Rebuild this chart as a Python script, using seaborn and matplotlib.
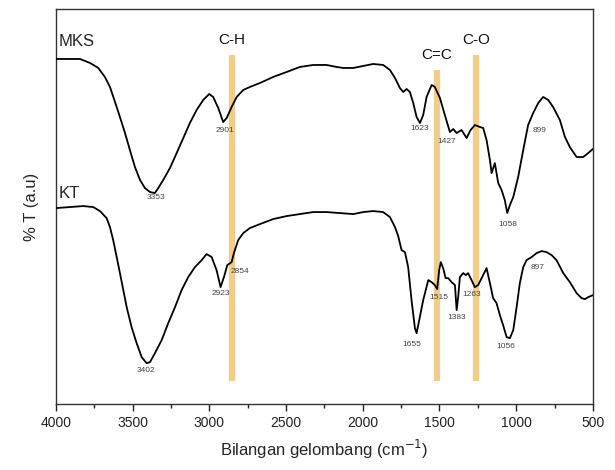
import numpy as np
import pandas as pd
import matplotlib
matplotlib.use('Agg')
import matplotlib.pyplot as plt
import seaborn as sns

# MKS spectrum (wavenumber, %T arbitrary units)
mks_wn = [4000, 3844, 3778, 3724, 3681, 3648, 3615, 3583, 3550, 3518, 3485, 3452, 3420, 3387,
          3355, 3333, 3301, 3257, 3213, 3170, 3127, 3083, 3040, 3001, 2975, 2942, 2910, 2887,
          2855, 2822, 2779, 2736, 2670, 2584, 2496, 2410, 2323, 2236, 2170, 2127, 2062, 1997,
          1932, 1867, 1823, 1790, 1758, 1736, 1714, 1693, 1671, 1649, 1627, 1606, 1584, 1551,
          1530, 1497, 1465, 1432, 1410, 1388, 1356, 1323, 1297, 1269, 1236, 1215, 1193, 1171,
          1160, 1139, 1117, 1095, 1074, 1058, 1041, 1019, 987, 954, 922, 889, 856, 824, 791,
          759, 715, 682, 650, 606, 563, 530, 500]
mks_t = [345, 345, 341, 336, 327, 317, 302, 287, 271, 254, 237, 224, 216, 212,
         211, 216, 224, 236, 251, 266, 281, 294, 304, 310, 307, 296, 282, 286,
         297, 307, 314, 317, 321, 327, 332, 337, 339, 339, 337, 336, 336, 338,
         340, 339, 334, 326, 316, 312, 315, 312, 301, 287, 281, 289, 307, 319,
         317, 306, 289, 272, 275, 271, 274, 266, 274, 279, 277, 276, 264, 244,
         231, 241, 221, 214, 204, 191, 199, 207, 227, 254, 279, 291, 301, 307, 304,
         297, 284, 267, 257, 247, 247, 251, 255]

# KT spectrum
kt_wn = [4000, 3909, 3822, 3757, 3713, 3670, 3648, 3627, 3604, 3583, 3561, 3539, 3507, 3474,
         3441, 3409, 3387, 3355, 3311, 3268, 3224, 3181, 3138, 3094, 3050, 3018, 2985, 2953,
         2927, 2905, 2883, 2855, 2840, 2812, 2779, 2736, 2670, 2584, 2496, 2410, 2323, 2236,
         2149, 2062, 1997, 1932, 1867, 1823, 1790, 1769, 1747, 1725, 1704, 1682, 1660, 1649,
         1632, 1606, 1573, 1551, 1530, 1515, 1502, 1491, 1476, 1460, 1443, 1421, 1399, 1388,
         1378, 1367, 1345, 1328, 1313, 1291, 1269, 1248, 1225, 1193, 1171, 1150, 1128, 1106,
         1085, 1062, 1041, 1019, 997, 976, 954, 932, 899, 867, 834, 802, 769, 737, 693, 650,
         606, 574, 552, 530, 500]
kt_t = [196, 197, 198, 197, 193, 186, 177, 164, 147, 131, 114, 97, 77, 61,
        47, 41, 42, 51, 64, 81, 97, 114, 127, 137, 144, 150, 147, 134,
        117, 127, 139, 142, 151, 164, 171, 176, 180, 185, 188, 190, 192, 192,
        191, 190, 192, 193, 192, 187, 177, 168, 154, 152, 137, 104, 76, 71,
        84, 104, 124, 122, 119, 115, 134, 142, 136, 126, 126, 122, 119, 94,
        107, 127, 131, 129, 131, 124, 117, 119, 126, 136, 121, 106, 101, 89,
        79, 67, 66, 74, 97, 121, 137, 144, 147, 151, 153, 152, 149, 144, 131, 122,
        111, 106, 105, 107, 109]

# peak labels: (text wavenumber, offset in pixels)
mks_peaks = [3353, 2901, 1623, 1427, 1058, 899]
mks_offsets = [(1, -5), (0, -10), (-1, -7), (-4, -10), (1, -11), (8, -14)]
kt_peaks = [3402, 2923, 2854, 1655, 1515, 1383, 1263, 1056, 897]
kt_offsets = [(-2, -8), (0, -8), (8, -10), (-4, -14), (2, -8), (-1, -14), (-4, -8), (-2, -9), (6, -11)]

# highlighted bands
band_names = ['C-H', 'C=C', 'C-O']
band_wn = [2854, 1515, 1263]
band_top = [349, 334, 349]
band_bottom = 23

sns.set_style('ticks')
plt.rcParams['font.family'] = ['Liberation Sans', 'DejaVu Sans']

fig = plt.figure(figsize=(6.15, 4.70), dpi=100)
ax = fig.add_axes([0.091, 0.140, 0.873, 0.841])

band_color = '#f2c878'
for name, w, top in zip(band_names, band_wn, band_top):
    ax.vlines(w, band_bottom, top, color=band_color, linewidth=4.5, alpha=0.9, zorder=1)
    ax.text(w, top + 8, name, ha='center', va='bottom', fontsize=11, color='#111111')

df = pd.concat([
    pd.DataFrame({'wn': mks_wn, 't': mks_t, 'sample': 'MKS'}),
    pd.DataFrame({'wn': kt_wn, 't': kt_t, 'sample': 'KT'}),
])
sns.lineplot(data=df, x='wn', y='t', units='sample', estimator=None,
             color='black', linewidth=1.3, ax=ax, zorder=3)

for peaks, offs, wn, t in [(mks_peaks, mks_offsets, mks_wn, mks_t),
                           (kt_peaks, kt_offsets, kt_wn, kt_t)]:
    for p, (dx, dy) in zip(peaks, offs):
        yv = np.interp(p, wn[::-1], t[::-1])
        ax.annotate(str(p), xy=(p, yv), xytext=(dx, dy), textcoords='offset pixels',
                    ha='center', va='center', fontsize=6, color='#444444', zorder=4)

ax.text(3985, 362, 'MKS', ha='left', va='center', fontsize=12)
ax.text(3985, 211, 'KT', ha='left', va='center', fontsize=12)

ax.set_xlim(4000, 500)
ax.set_ylim(0, 395)
ax.set_xticks([4000, 3500, 3000, 2500, 2000, 1500, 1000, 500])
ax.set_xticks(np.arange(750, 4000, 500), minor=True)
ax.set_yticks([])
ax.tick_params(axis='x', which='major', direction='out', length=5, width=1, labelsize=10, colors='#222222')
ax.tick_params(axis='x', which='minor', direction='out', length=3, width=1, colors='#222222')
for s in ax.spines.values():
    s.set_visible(True)
    s.set_color('#333333')
    s.set_linewidth(1)
ax.set_xlabel('Bilangan gelombang (cm$^{-1}$)', fontsize=12, labelpad=6)
ax.set_ylabel('% T (a.u)', fontsize=12, labelpad=12)

fig.savefig('out.png', dpi=100)
